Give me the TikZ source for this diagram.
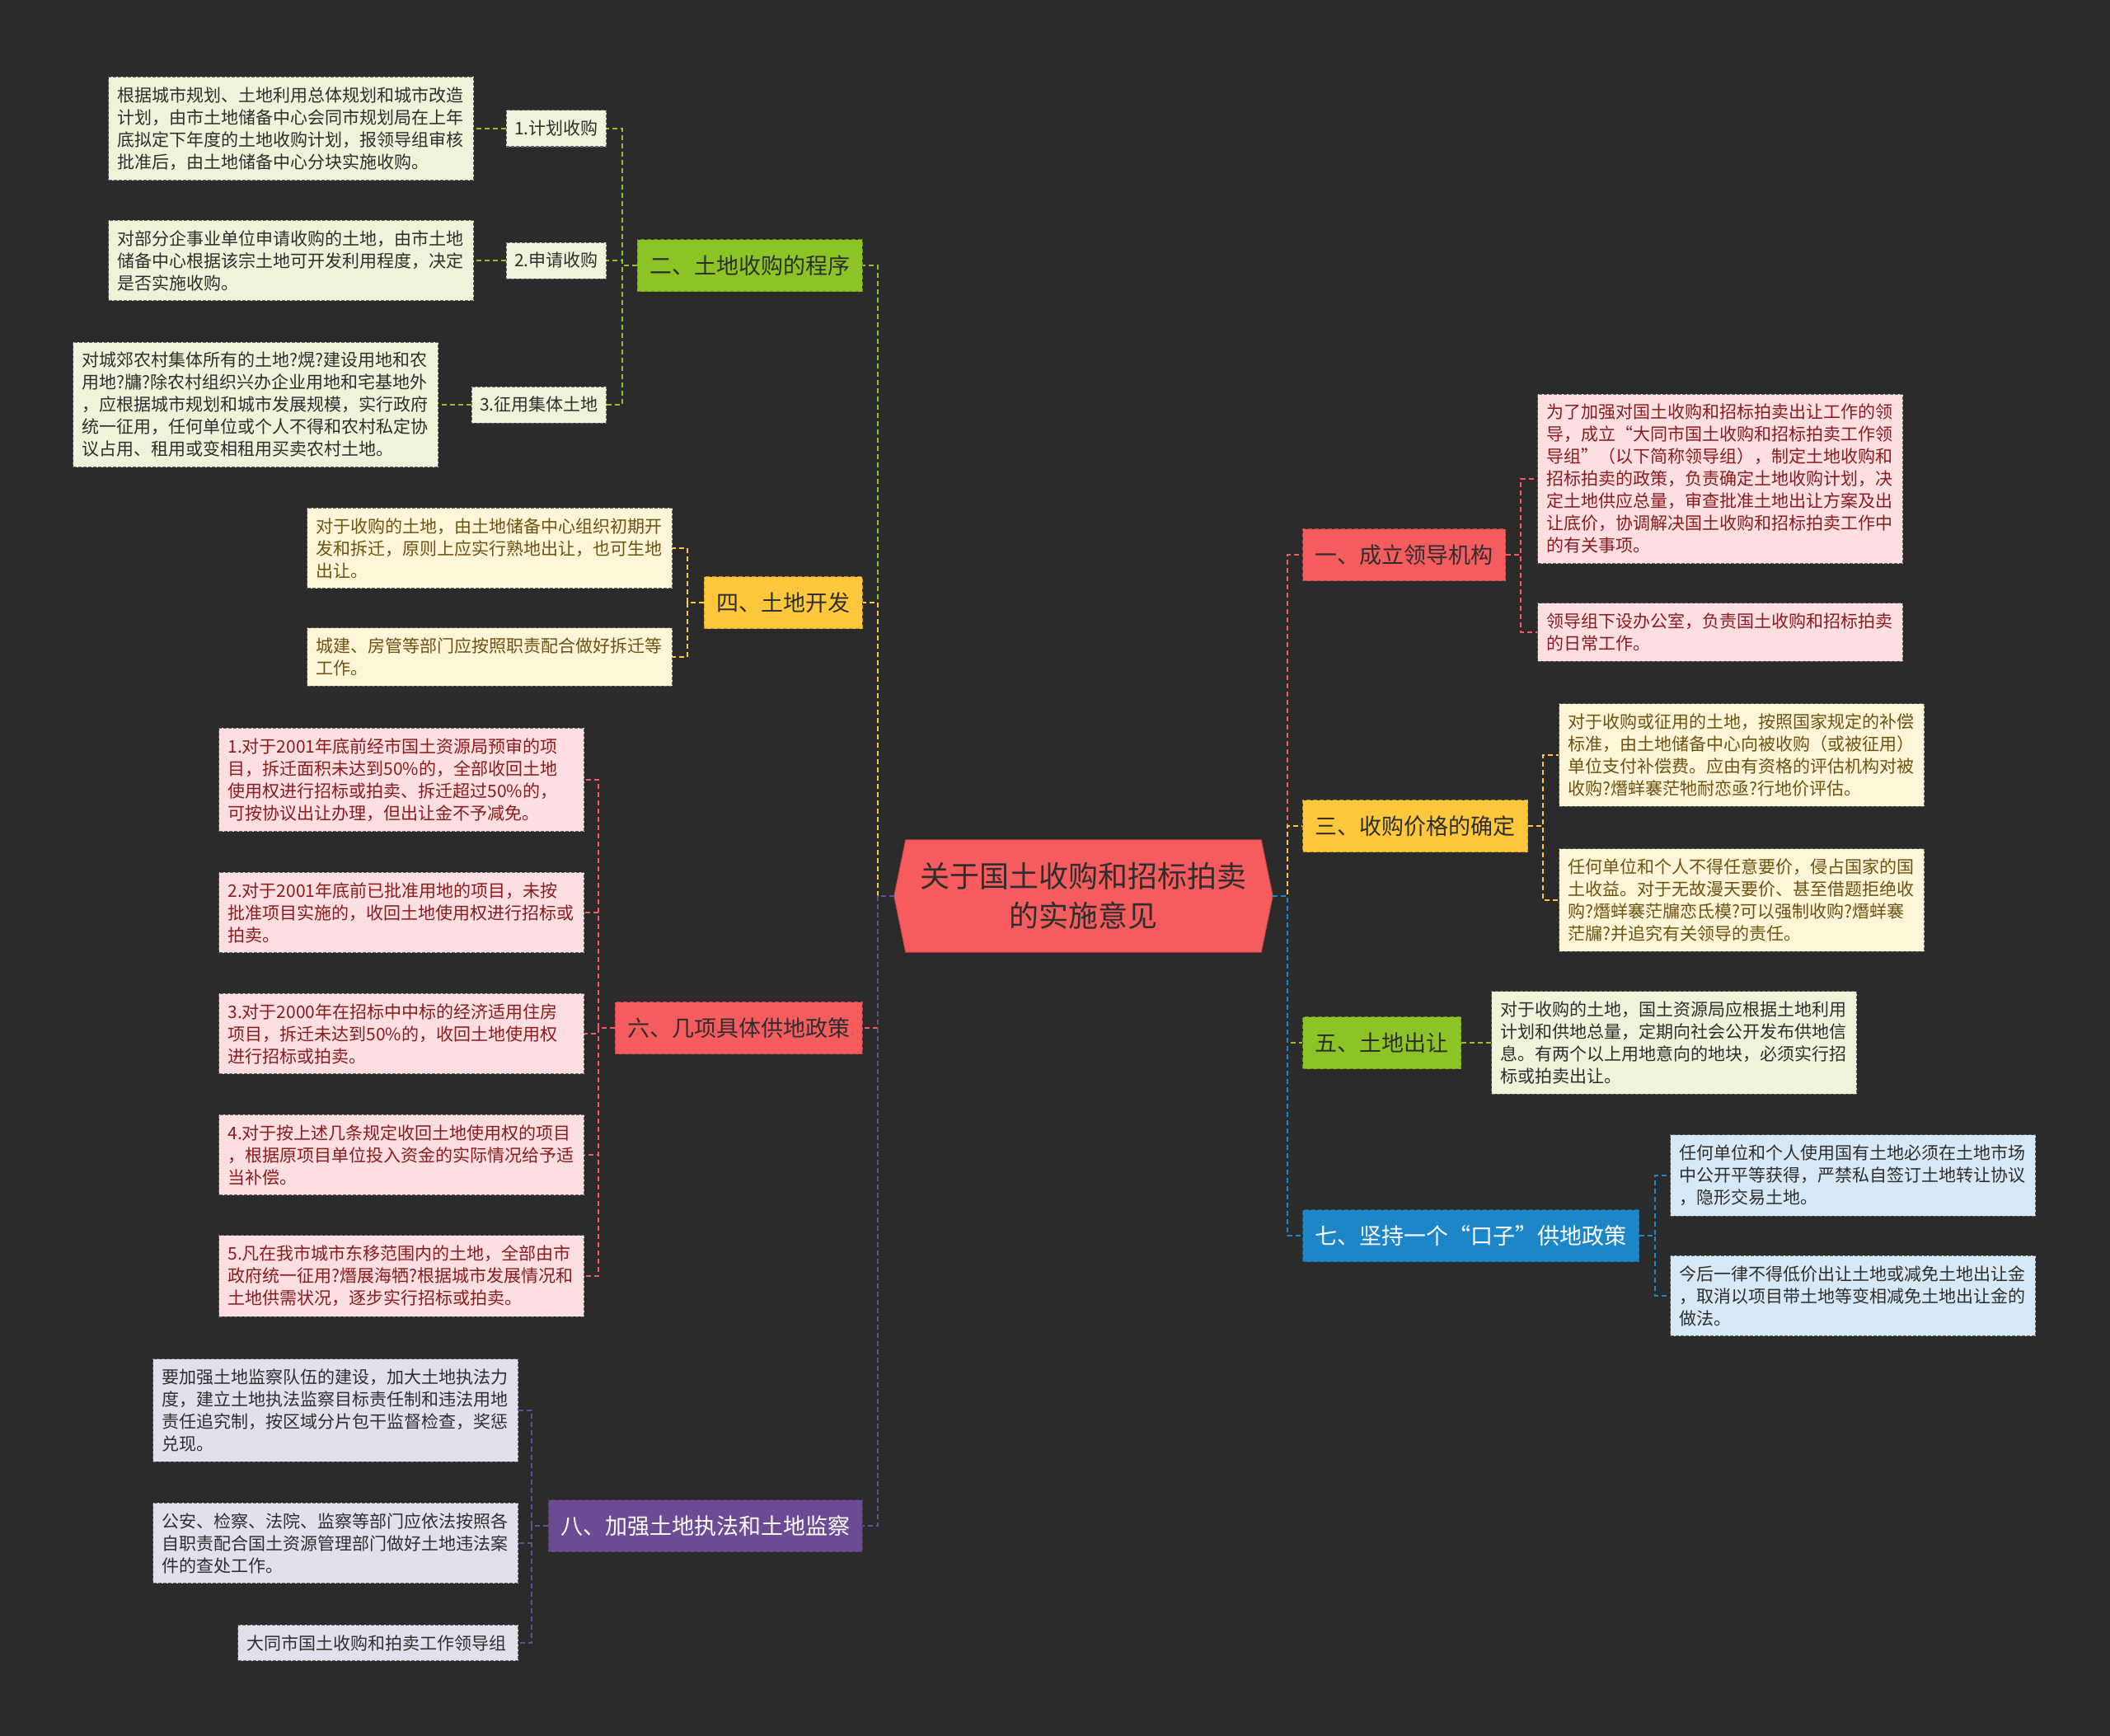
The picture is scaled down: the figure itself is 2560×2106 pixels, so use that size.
\documentclass[tikz,border=0pt]{standalone}
\usepackage{fontspec}
\setmainfont{Noto Sans CJK SC}
\usetikzlibrary{backgrounds,calc}
\setlength{\parindent}{0pt}

\definecolor{bg}{HTML}{2B2B2B}
\definecolor{cred}{HTML}{F65B5E}
\definecolor{cyellow}{HTML}{FFC73B}
\definecolor{cgreen}{HTML}{8CC425}
\definecolor{cblue}{HTML}{1D86C8}
\definecolor{cpurple}{HTML}{6B4B93}
\definecolor{lred}{HTML}{FDDFE1}
\definecolor{lyellow}{HTML}{FFF6DA}
\definecolor{lgreen}{HTML}{EEF4DA}
\definecolor{lblue}{HTML}{D7E9F6}
\definecolor{lpurple}{HTML}{E4DFED}
\definecolor{tred}{HTML}{8A1C1E}
\definecolor{tyellow}{HTML}{6E5210}
\definecolor{tdark}{HTML}{2E2E2E}

\begin{document}
\begin{tikzpicture}[x=1pt, y=-1pt,
  topic/.style={draw=#1!75!black, dash pattern=on 5pt off 3pt, line width=1.2pt, fill=#1,
    font=\fontsize{27}{32}\selectfont, inner xsep=15pt, minimum height=63pt, text=tdark},
  sub/.style={draw=black!60, dash pattern=on 4pt off 2pt, line width=1pt, fill=#1,
    font=\fontsize{21}{27}\selectfont, inner xsep=10pt, minimum height=44pt, text=tdark},
  leaf/.style={draw=black!60, dash pattern=on 4pt off 2pt, line width=1pt, fill=#1,
    font=\fontsize{21}{27}\selectfont, inner xsep=11pt, inner ysep=12pt,
    text width=421pt, align=left, text=tdark},
  link/.style={draw=#1, line width=2pt, dash pattern=on 6pt off 4pt}]

  \begin{pgfonlayer}{background}
    \fill[bg] (0,0) rectangle (2560,2106);
  \end{pgfonlayer}

  \node[minimum width=459pt, minimum height=136pt, inner sep=0pt, align=center,
        font=\fontsize{36}{48}\selectfont, text=tdark] at (1314.5,1087)
  (root) {关于国土收购和招标拍卖\\的实施意见};

  \begin{pgfonlayer}{background}
    \filldraw[fill=cred, draw=cred!80!black, line width=1pt]
      ($(root.north west)+(14,0)$) -- ($(root.north east)+(-14,0)$) -- (root.east)
      -- ($(root.south east)+(-14,0)$) -- ($(root.south west)+(14,0)$) -- (root.west) -- cycle;
  \end{pgfonlayer}

  % right side
  \node[topic=cred, anchor=west] at (1580,673) (b1) {一、成立领导机构};
  \node[topic=cyellow, anchor=west] at (1580,1002) (b3) {三、收购价格的确定};
  \node[topic=cgreen, anchor=west] at (1580,1265) (b5) {五、土地出让};
  \node[topic=cblue, anchor=west, text=white] at (1580,1499) (b7) {七、坚持一个“口子”供地政策};

  \node[leaf=lred, text=tred, anchor=west] at (1865,581) (c11)
  {为了加强对国土收购和招标拍卖出让工作的领\\导，成立“大同市国土收购和招标拍卖工作领\\导组”（以下简称领导组），制定土地收购和\\招标拍卖的政策，负责确定土地收购计划，决\\定土地供应总量，审查批准土地出让方案及出\\让底价，协调解决国土收购和招标拍卖工作中\\的有关事项。};
  \node[leaf=lred, text=tred, anchor=west] at (1865,767) (c12)
  {领导组下设办公室，负责国土收购和招标拍卖\\的日常工作。};

  \node[leaf=lyellow, text=tyellow, anchor=west] at (1891,916) (c31)
  {对于收购或征用的土地，按照国家规定的补偿\\标准，由土地储备中心向被收购（或被征用）\\单位支付补偿费。应由有资格的评估机构对被\\收购?熸蛘褰茫牠耐恋亟?行地价评估。};
  \node[leaf=lyellow, text=tyellow, anchor=west] at (1891,1092) (c32)
  {任何单位和个人不得任意要价，侵占国家的国\\土收益。对于无故漫天要价、甚至借题拒绝收\\购?熸蛘褰茫牖恋氐模?可以强制收购?熸蛘褰\\茫牖?并追究有关领导的责任。};

  \node[leaf=lgreen, anchor=west] at (1809,1265) (c51)
  {对于收购的土地，国土资源局应根据土地利用\\计划和供地总量，定期向社会公开发布供地信\\息。有两个以上用地意向的地块，必须实行招\\标或拍卖出让。};

  \node[leaf=lblue, anchor=west] at (2026,1426) (c71)
  {任何单位和个人使用国有土地必须在土地市场\\中公开平等获得，严禁私自签订土地转让协议\\，隐形交易土地。};
  \node[leaf=lblue, anchor=west] at (2026,1572) (c72)
  {今后一律不得低价出让土地或减免土地出让金\\，取消以项目带土地等变相减免土地出让金的\\做法。};

  % left side
  \node[topic=cgreen, anchor=east] at (1047,322) (b2) {二、土地收购的程序};
  \node[topic=cyellow, anchor=east] at (1047,731) (b4) {四、土地开发};
  \node[topic=cred, anchor=east] at (1047,1247) (b6) {六、几项具体供地政策};
  \node[topic=cpurple, anchor=east, text=white] at (1047,1851) (b8) {八、加强土地执法和土地监察};

  \node[sub=lgreen, anchor=east] at (736,156) (s21) {1.计划收购};
  \node[sub=lgreen, anchor=east] at (736,316) (s22) {2.申请收购};
  \node[sub=lgreen, anchor=east] at (736,491) (s23) {3.征用集体土地};

  \node[leaf=lgreen, anchor=east] at (575,156) (t21)
  {根据城市规划、土地利用总体规划和城市改造\\计划，由市土地储备中心会同市规划局在上年\\底拟定下年度的土地收购计划，报领导组审核\\批准后，由土地储备中心分块实施收购。};
  \node[leaf=lgreen, anchor=east] at (575,316) (t22)
  {对部分企事业单位申请收购的土地，由市土地\\储备中心根据该宗土地可开发利用程度，决定\\是否实施收购。};
  \node[leaf=lgreen, anchor=east] at (532,491) (t23)
  {对城郊农村集体所有的土地?熀?建设用地和农\\用地?牗?除农村组织兴办企业用地和宅基地外\\，应根据城市规划和城市发展规模，实行政府\\统一征用，任何单位或个人不得和农村私定协\\议占用、租用或变相租用买卖农村土地。};

  \node[leaf=lyellow, text=tyellow, anchor=east] at (816,665) (c41)
  {对于收购的土地，由土地储备中心组织初期开\\发和拆迁，原则上应实行熟地出让，也可生地\\出让。};
  \node[leaf=lyellow, text=tyellow, anchor=east] at (816,797) (c42)
  {城建、房管等部门应按照职责配合做好拆迁等\\工作。};

  \node[leaf=lred, text=tred, anchor=east] at (709,946) (c61)
  {1.对于2001年底前经市国土资源局预审的项\\目，拆迁面积未达到50\%的，全部收回土地\\使用权进行招标或拍卖、拆迁超过50\%的，\\可按协议出让办理，但出让金不予减免。};
  \node[leaf=lred, text=tred, anchor=east] at (709,1107) (c62)
  {2.对于2001年底前已批准用地的项目，未按\\批准项目实施的，收回土地使用权进行招标或\\拍卖。};
  \node[leaf=lred, text=tred, anchor=east] at (709,1254) (c63)
  {3.对于2000年在招标中中标的经济适用住房\\项目，拆迁未达到50\%的，收回土地使用权\\进行招标或拍卖。};
  \node[leaf=lred, text=tred, anchor=east] at (709,1401) (c64)
  {4.对于按上述几条规定收回土地使用权的项目\\，根据原项目单位投入资金的实际情况给予适\\当补偿。};
  \node[leaf=lred, text=tred, anchor=east] at (709,1548) (c65)
  {5.凡在我市城市东移范围内的土地，全部由市\\政府统一征用?熸展海牺?根据城市发展情况和\\土地供需状况，逐步实行招标或拍卖。};

  \node[leaf=lpurple, anchor=east] at (629,1711) (c81)
  {要加强土地监察队伍的建设，加大土地执法力\\度，建立土地执法监察目标责任制和违法用地\\责任追究制，按区域分片包干监督检查，奖惩\\兑现。};
  \node[leaf=lpurple, anchor=east] at (629,1872) (c82)
  {公安、检察、法院、监察等部门应依法按照各\\自职责配合国土资源管理部门做好土地违法案\\件的查处工作。};
  \node[leaf=lpurple, anchor=east, text width=318pt] at (629,1993) (c83)
  {大同市国土收购和拍卖工作领导组};

  % trunk
  \draw[link=cgreen] (root.west) -- ++(-20,0) |- (b2.east);
  \draw[link=cyellow] (root.west) -- ++(-20,0) |- (b4.east);
  \draw[link=cred] (root.west) -- ++(-20,0) |- (b6.east);
  \draw[link=cpurple] (root.west) -- ++(-20,0) |- (b8.east);
  \draw[link=cred] (root.east) -- ++(18,0) |- (b1.west);
  \draw[link=cyellow] (root.east) -- ++(18,0) |- (b3.west);
  \draw[link=cgreen] (root.east) -- ++(18,0) |- (b5.west);
  \draw[link=cblue] (root.east) -- ++(18,0) |- (b7.west);

  % branches
  \draw[link=cred] (b1.east) -- ++(18,0) |- (c11.west);
  \draw[link=cred] (b1.east) -- ++(18,0) |- (c12.west);
  \draw[link=cyellow] (b3.east) -- ++(18,0) |- (c31.west);
  \draw[link=cyellow] (b3.east) -- ++(18,0) |- (c32.west);
  \draw[link=cgreen] (b5.east) -- (c51.west);
  \draw[link=cblue] (b7.east) -- ++(19,0) |- (c71.west);
  \draw[link=cblue] (b7.east) -- ++(19,0) |- (c72.west);

  \draw[link=cgreen] (b2.west) -- ++(-18,0) |- (s21.east);
  \draw[link=cgreen] (b2.west) -- ++(-18,0) |- (s22.east);
  \draw[link=cgreen] (b2.west) -- ++(-18,0) |- (s23.east);
  \draw[link=cgreen] (s21.west) -- (t21.east);
  \draw[link=cgreen] (s22.west) -- (t22.east);
  \draw[link=cgreen] (s23.west) -- (t23.east);

  \draw[link=cyellow] (b4.west) -- ++(-20,0) |- (c41.east);
  \draw[link=cyellow] (b4.west) -- ++(-20,0) |- (c42.east);

  \draw[link=cred] (b6.west) -- ++(-20,0) |- (c61.east);
  \draw[link=cred] (b6.west) -- ++(-20,0) |- (c62.east);
  \draw[link=cred] (b6.west) -- ++(-20,0) |- (c63.east);
  \draw[link=cred] (b6.west) -- ++(-20,0) |- (c64.east);
  \draw[link=cred] (b6.west) -- ++(-20,0) |- (c65.east);

  \draw[link=cpurple] (b8.west) -- ++(-20,0) |- (c81.east);
  \draw[link=cpurple] (b8.west) -- ++(-20,0) |- (c82.east);
  \draw[link=cpurple] (b8.west) -- ++(-20,0) |- (c83.east);
\end{tikzpicture}
\end{document}
